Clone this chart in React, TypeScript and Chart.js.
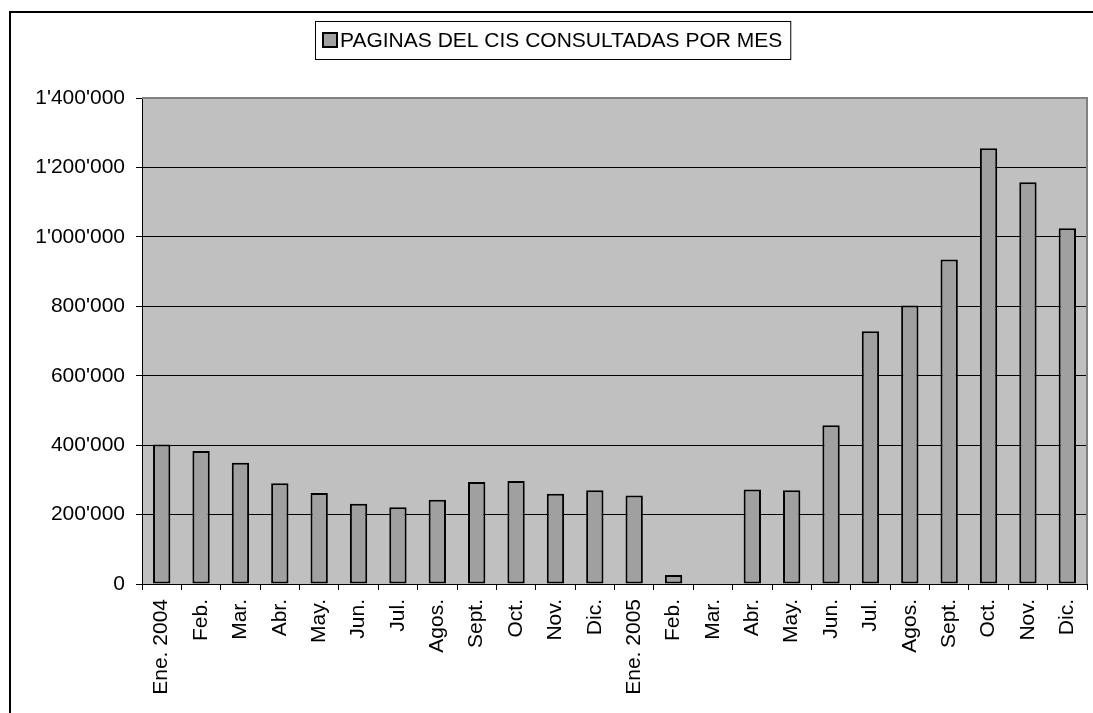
import React, { useEffect, useRef } from "react";
import { Chart, registerables } from "chart.js";

Chart.register(...registerables);

const categories = [
  "Ene. 2004", "Feb.", "Mar.", "Abr.", "May.", "Jun.", "Jul.", "Agos.", "Sept.", "Oct.", "Nov.", "Dic.",
  "Ene. 2005", "Feb.", "Mar.", "Abr.", "May.", "Jun.", "Jul.", "Agos.", "Sept.", "Oct.", "Nov.", "Dic.",
];
const pageViews = [
  402000, 383000, 349000, 290000, 262000, 231000, 221000, 243000, 294000, 297000, 260000, 270000,
  255000, 26000, 0, 272000, 270000, 457000, 728000, 802000, 935000, 1255000, 1157000, 1025000,
];
const seriesLabel = "PAGINAS DEL CIS CONSULTADAS POR MES";
const yMin = 0;
const yMax = 1400000;
const yStep = 200000;

const FONT = "'Liberation Sans', Arial, sans-serif";
const BAR_FILL = "#A0A0A0";
const PLOT_BG = "#C0C0C0";

function formatTick(v: number): string {
  return String(Math.round(v)).replace(/\B(?=(\d{3})+(?!\d))/g, "'");
}

const decorPlugin = {
  id: "decor",
  beforeDraw(chart: any) {
    const { ctx, chartArea } = chart;
    ctx.save();
    ctx.fillStyle = "#ffffff";
    ctx.fillRect(0, 0, 1093, 713);
    ctx.fillStyle = PLOT_BG;
    ctx.fillRect(chartArea.left, chartArea.top, chartArea.right - chartArea.left, chartArea.bottom - chartArea.top);
    ctx.restore();
  },
  afterDraw(chart: any) {
    const { ctx, chartArea } = chart;
    ctx.save();
    // plot area border (top & right, grey)
    ctx.strokeStyle = "#808080";
    ctx.lineWidth = 2;
    ctx.beginPath();
    ctx.moveTo(chartArea.left, chartArea.top);
    ctx.lineTo(chartArea.right, chartArea.top);
    ctx.lineTo(chartArea.right, chartArea.bottom);
    ctx.stroke();

    // outer chart border (right and bottom edges lie outside the picture)
    ctx.strokeStyle = "#000000";
    ctx.lineWidth = 2;
    ctx.beginPath();
    ctx.moveTo(10, 800);
    ctx.lineTo(10, 12);
    ctx.lineTo(1200, 12);
    ctx.stroke();

    // legend
    ctx.font = `21px ${FONT}`;
    const tw = ctx.measureText(seriesLabel).width;
    const total = tw + 33;
    const boxL = Math.round(553 - total / 2) + 0.5;
    const boxT = 21.5;
    const boxH = 38;
    ctx.fillStyle = "#ffffff";
    ctx.fillRect(boxL, boxT, total, boxH);
    ctx.strokeStyle = "#000000";
    ctx.lineWidth = 1;
    ctx.strokeRect(boxL, boxT, total, boxH);
    const sqL = boxL + 7.5;
    const sqT = 33;
    ctx.fillStyle = BAR_FILL;
    ctx.fillRect(sqL, sqT, 14, 14);
    ctx.lineWidth = 2;
    ctx.strokeRect(sqL, sqT, 14, 14);
    ctx.fillStyle = "#000000";
    ctx.textBaseline = "middle";
    ctx.textAlign = "left";
    ctx.fillText(seriesLabel, sqL + 17, 41);
    ctx.restore();
  },
};

export default function App() {
  const ref = useRef<HTMLCanvasElement | null>(null);

  useEffect(() => {
    document.body.style.margin = "0";
    const canvas = ref.current;
    if (!canvas) return;
    const chart = new Chart(canvas, {
      type: "bar",
      data: {
        labels: categories,
        datasets: [
          {
            label: seriesLabel,
            data: pageViews,
            backgroundColor: BAR_FILL,
            borderColor: "#000000",
            borderWidth: 2,
            borderSkipped: false,
            barPercentage: 0.44,
            categoryPercentage: 1,
          },
        ],
      },
      options: {
        animation: false,
        responsive: false,
        devicePixelRatio: 1,
        layout: { padding: { top: 98, left: 0, right: 6, bottom: 0 } },
        plugins: {
          legend: { display: false },
          tooltip: { enabled: false },
          title: { display: false },
        },
        scales: {
          x: {
            offset: true,
            grid: {
              offset: true,
              drawOnChartArea: false,
              drawTicks: true,
              tickLength: 6,
              color: "#000000",
              lineWidth: 1,
            },
            border: { display: true, color: "#000000", width: 1 },
            ticks: {
              autoSkip: false,
              maxRotation: 90,
              minRotation: 90,
              padding: 9,
              color: "#000000",
              font: { family: FONT, size: 21 },
            },
            afterFit(scale: any) {
              scale.height = 713 - 584;
              scale.paddingLeft = 0;
              scale.paddingRight = 0;
            },
          },
          y: {
            min: yMin,
            max: yMax,
            grid: {
              drawOnChartArea: true,
              drawTicks: true,
              tickLength: 6,
              color: "#000000",
              lineWidth: 1,
            },
            border: { display: true, color: "#000000", width: 1 },
            ticks: {
              stepSize: yStep,
              padding: 11,
              color: "#000000",
              font: { family: FONT, size: 21 },
              callback: (v: any) => formatTick(Number(v)),
            },
            afterFit(scale: any) {
              scale.width = 142;
            },
          },
        },
      },
      plugins: [decorPlugin],
    });
    return () => chart.destroy();
  }, []);

  return <canvas ref={ref} width={1093} height={713} style={{ display: "block" }} />;
}
